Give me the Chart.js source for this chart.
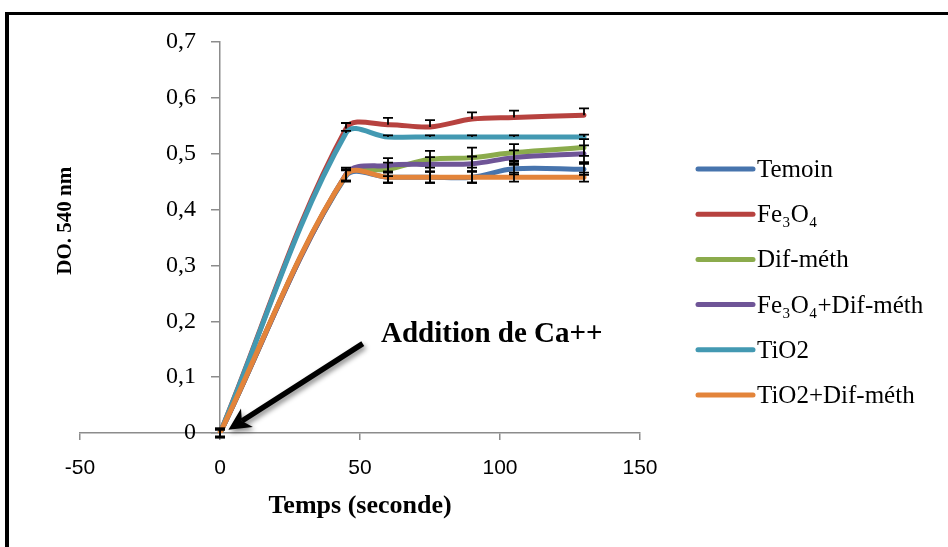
<!DOCTYPE html>
<html>
<head>
<meta charset="utf-8">
<script src="https://cdn.jsdelivr.net/npm/chart.js@4/dist/chart.umd.min.js"></script>
<style>
  html, body { margin: 0; padding: 0; background: #fff; }
  #wrap { width: 948px; height: 547px; position: relative; }
</style>
</head>
<body>
<div id="wrap"><canvas id="chart" width="948" height="547"></canvas></div>
<script>
// Sampling times (s)
const times = [0, 45, 60, 75, 90, 105, 130];

// Series names
const seriesNames = ['Temoin', 'Fe\u2083O\u2084', 'Dif-méth', 'Fe\u2083O\u2084+Dif-méth', 'TiO2', 'TiO2+Dif-méth'];

// Absorbance at 540 nm
const temoin      = [0, 0.460, 0.458, 0.458, 0.458, 0.473, 0.472];
const fe3o4       = [0, 0.545, 0.552, 0.548, 0.562, 0.565, 0.569];
const difMeth     = [0, 0.462, 0.472, 0.490, 0.493, 0.502, 0.511];
const fe3o4Dif    = [0, 0.463, 0.479, 0.481, 0.482, 0.493, 0.500];
const tio2        = [0, 0.537, 0.530, 0.530, 0.530, 0.530, 0.530];
const tio2Dif     = [0, 0.462, 0.458, 0.458, 0.458, 0.458, 0.458];

// Standard errors
const errTemoin   = [0.008, 0.010, 0.010, 0.010, 0.010, 0.010, 0.010];
const errFe3o4    = [0.008, 0.010, 0.012, 0.012, 0.012, 0.012, 0.012];
const errDifMeth  = [0.008, 0.010, 0.012, 0.015, 0.018, 0.015, 0.015];
const errFe3o4Dif = [0.008, 0.012, 0.013, 0.013, 0.013, 0.013, 0.015];
const errTio2     = [0.006, 0.004, 0.003, 0.003, 0.003, 0.003, 0.004];
const errTio2Dif  = [0.006, 0.010, 0.010, 0.010, 0.010, 0.008, 0.008];

// Error bar direction: 1 = upper only, 2 = both
const errSides = [2, 1, 2, 2, 1, 2];

// Axis tick labels
const yTickLabels = ['0', '0,1', '0,2', '0,3', '0,4', '0,5', '0,6', '0,7'];

const seriesValues = [temoin, fe3o4, difMeth, fe3o4Dif, tio2, tio2Dif];
const seriesErrors = [errTemoin, errFe3o4, errDifMeth, errFe3o4Dif, errTio2, errTio2Dif];
const seriesColors = ['#4774ad', '#b7423f', '#8bab4c', '#6f5597', '#4399b2', '#e3843a'];

const SERIF = '"Liberation Serif", "Times New Roman", serif';
const SANS = '"Liberation Sans", Arial, sans-serif';

const datasets = seriesValues.map((vals, i) => ({
  label: seriesNames[i],
  data: times.map((t, j) => ({ x: t, y: vals[j] })),
  borderColor: seriesColors[i],
  backgroundColor: seriesColors[i],
  borderWidth: 5,
  borderCapStyle: 'round',
  borderJoinStyle: 'round',
  pointRadius: 0,
  showLine: true,
  tension: 0.35,
  order: -i
}));

// Page frame
const framePlugin = {
  id: 'frame',
  beforeDraw(chart) {
    const ctx = chart.ctx;
    ctx.save();
    ctx.fillStyle = '#fff';
    ctx.fillRect(0, 0, chart.width, chart.height);
    ctx.fillStyle = '#000';
    ctx.fillRect(5, 12, chart.width, 3);
    ctx.fillRect(5, 12, 4, chart.height);
    ctx.restore();
  }
};

// Vertical error bars with caps
const errorBarPlugin = {
  id: 'errorBars',
  afterDatasetsDraw(chart) {
    const ctx = chart.ctx;
    const xs = chart.scales.x, ys = chart.scales.y;
    ctx.save();
    ctx.strokeStyle = '#000';
    ctx.lineWidth = 1.8;
    seriesValues.forEach((vals, i) => {
      const errs = seriesErrors[i];
      vals.forEach((v, j) => {
        const px = xs.getPixelForValue(times[j]);
        const top = ys.getPixelForValue(v + errs[j]);
        const bot = errSides[i] === 2 ? ys.getPixelForValue(v - errs[j]) : ys.getPixelForValue(v);
        ctx.beginPath();
        ctx.moveTo(px, top); ctx.lineTo(px, bot);
        ctx.moveTo(px - 5, top); ctx.lineTo(px + 5, top);
        if (errSides[i] === 2) { ctx.moveTo(px - 5, bot); ctx.lineTo(px + 5, bot); }
        ctx.stroke();
      });
    });
    ctx.restore();
  }
};

// Y axis title, legend, and the calcium addition arrow
const decorPlugin = {
  id: 'decor',
  afterDraw(chart) {
    const ctx = chart.ctx;
    const xs = chart.scales.x, ys = chart.scales.y;
    ctx.save();

    // Y axis title
    ctx.fillStyle = '#000';
    ctx.font = 'bold 21px ' + SERIF;
    ctx.textAlign = 'center';
    ctx.textBaseline = 'middle';
    ctx.translate(66, ys.getPixelForValue(0.38));
    ctx.rotate(-Math.PI / 2);
    ctx.fillText('DO. 540 nm', 0, 0);
    ctx.setTransform(1, 0, 0, 1, 0, 0);

    // Legend
    const lx0 = 698, lx1 = 753, ly0 = 169, ldy = 45.2;
    ctx.font = '25px ' + SERIF;
    ctx.textAlign = 'left';
    ctx.textBaseline = 'alphabetic';
    chart.data.datasets.forEach((ds, i) => {
      const y = ly0 + i * ldy;
      ctx.strokeStyle = ds.borderColor;
      ctx.lineWidth = 5;
      ctx.lineCap = 'round';
      ctx.beginPath();
      ctx.moveTo(lx0, y); ctx.lineTo(lx1, y);
      ctx.stroke();
      ctx.fillStyle = '#000';
      ctx.fillText(ds.label, 757, y + 8);
    });

    // Annotation text
    ctx.font = 'bold 29px ' + SERIF;
    ctx.textBaseline = 'middle';
    ctx.fillText('Addition de Ca++', xs.getPixelForValue(57.5), ys.getPixelForValue(0.176));

    // Arrow pointing at the start of the curves
    const sx = xs.getPixelForValue(51), sy = ys.getPixelForValue(0.16);
    const tx = xs.getPixelForValue(3), ty = ys.getPixelForValue(0.006);
    const ang = Math.atan2(ty - sy, tx - sx);
    const headLen = 22, headW = 11;
    const bx = tx - headLen * Math.cos(ang), by = ty - headLen * Math.sin(ang);
    ctx.shadowColor = 'rgba(0,0,0,0.45)';
    ctx.shadowBlur = 5;
    ctx.shadowOffsetX = 2;
    ctx.shadowOffsetY = 3;
    ctx.strokeStyle = '#000';
    ctx.fillStyle = '#000';
    ctx.lineWidth = 5.5;
    ctx.lineCap = 'butt';
    ctx.beginPath();
    ctx.moveTo(sx, sy);
    ctx.lineTo(bx + 6 * Math.cos(ang), by + 6 * Math.sin(ang));
    ctx.stroke();
    const nx = -Math.sin(ang), ny = Math.cos(ang);
    const notchX = tx - (headLen - 6) * Math.cos(ang), notchY = ty - (headLen - 6) * Math.sin(ang);
    ctx.beginPath();
    ctx.moveTo(tx, ty);
    ctx.lineTo(bx + nx * headW, by + ny * headW);
    ctx.lineTo(notchX, notchY);
    ctx.lineTo(bx - nx * headW, by - ny * headW);
    ctx.closePath();
    ctx.fill();

    ctx.restore();
  }
};

new Chart(document.getElementById('chart'), {
  type: 'scatter',
  data: { datasets },
  options: {
    responsive: false,
    animation: false,
    devicePixelRatio: 1,
    layout: { padding: { left: 80, right: 308, top: 42, bottom: 25.4 } },
    plugins: { legend: { display: false }, tooltip: { enabled: false } },
    scales: {
      x: {
        type: 'linear',
        min: -50, max: 150,
        ticks: { stepSize: 50, color: '#000', padding: 16, font: { family: SANS, size: 21 } },
        grid: { drawOnChartArea: false, drawTicks: true, tickLength: 7, color: '#8c8c8c', lineWidth: 1.5 },
        border: { color: '#8c8c8c', width: 1.5 },
        title: { display: true, text: 'Temps (seconde)', color: '#000',
                 font: { family: SERIF, size: 26, weight: 'bold' }, padding: { top: -6.8, bottom: 0 } }
      },
      y: {
        type: 'linear',
        position: { x: 0 },
        min: 0, max: 0.7,
        ticks: { stepSize: 0.1, color: '#000', font: { family: SERIF, size: 24 },
                 callback: (v, i) => yTickLabels[i] + '\u2002\u2002' },
        grid: { drawOnChartArea: false, drawTicks: true, tickLength: 8, color: '#8c8c8c', lineWidth: 1.5 },
        border: { color: '#8c8c8c', width: 1.5 }
      }
    }
  },
  plugins: [framePlugin, errorBarPlugin, decorPlugin]
});
</script>
</body>
</html>
